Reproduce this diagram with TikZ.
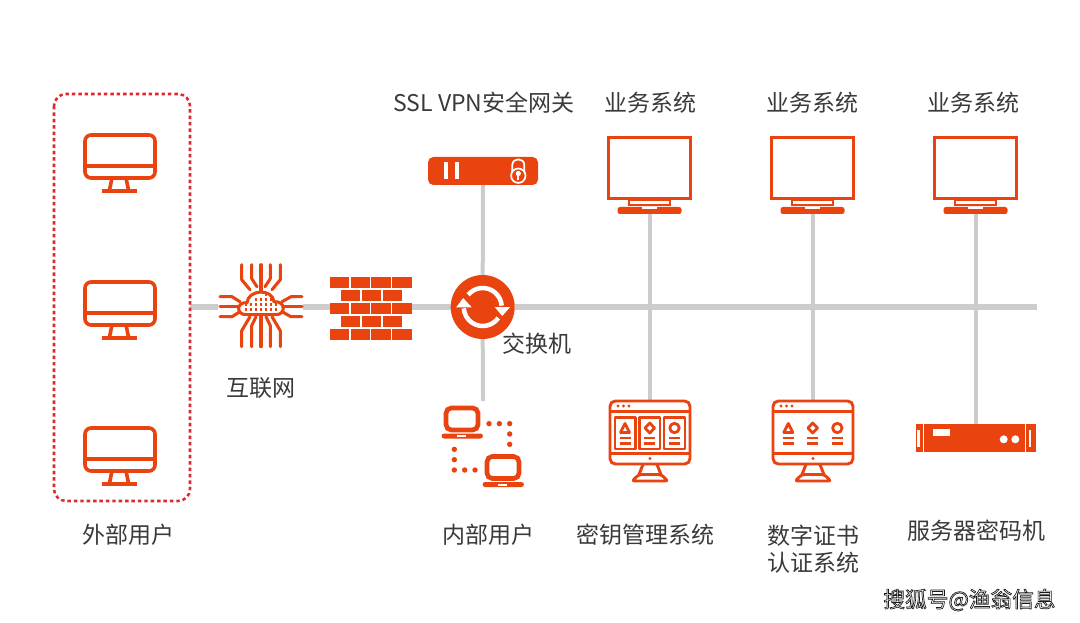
\documentclass[tikz,border=0pt]{standalone}
\usepackage{fontspec}
\setmainfont{Noto Sans CJK SC}
\definecolor{brand}{HTML}{E9430F}
\definecolor{dashred}{HTML}{E0282E}
\definecolor{bus}{HTML}{CCCCCC}
\definecolor{ink}{HTML}{3A3A3A}
\tikzset{
  bushor/.style={draw=bus,line width=5.2pt},
  busver/.style={draw=bus,line width=3pt},
  anchorbox/.style={inner sep=0pt,outer sep=0pt,minimum width=#1},
  lbl/.style={font=\fontsize{17.25}{20.25}\selectfont,text=ink,align=center,inner sep=0pt},
  ico/.style={draw=brand,line width=2.7pt,line join=round,line cap=round},
  icot/.style={draw=brand,line width=2.2pt,line join=round,line cap=round},
}
% user monitor: origin = centre of top edge
\newcommand{\usermon}[2]{\begin{scope}[shift={(#1,#2)}]
  \draw[ico,rounded corners=4.5pt] (-35,0) rectangle (35,43);
  \draw[ico,line cap=butt] (-35,31) -- (35,31);
  \draw[ico,line cap=butt] (-8,43) -- (-10.5,55) (6,43) -- (8.5,55);
  \draw[ico,line cap=butt] (-18,56) -- (17,56);
\end{scope}}
% business system screen: origin = centre of top edge
\newcommand{\bizscreen}[2]{\begin{scope}[shift={(#1,#2)}]
  \draw[ico,line join=miter] (-41,1.5) rectangle (41,62.5);
  \draw[draw=brand,line width=1.8pt] (-20.5,63.5) rectangle (20.5,69);
  \fill[brand,rounded corners=1.8pt] (-32,71) rectangle (32,78);
  \fill[white] (-8,71) rectangle (7,73);
\end{scope}}
% laptop: origin = top-left of screen
\newcommand{\laptop}[2]{\begin{scope}[shift={(#1,#2)}]
  \draw[draw=brand,line width=3.5pt,rounded corners=4pt] (2,2) rectangle (34,24);
  \fill[brand,rounded corners=2pt] (-2.5,27.5) rectangle (39,32.5);
  \fill[white] (13,29) rectangle (22,31);
\end{scope}}
% app monitor: origin = centre of top edge
\newcommand{\appmon}[2]{\begin{scope}[shift={(#1,#2)}]
  \draw[icot,rounded corners=4pt] (-40,1) rectangle (40,64);
  \draw[icot,line cap=butt] (-40,11.5) -- (40,11.5);
  \draw[icot,line cap=butt] (-40,53.5) -- (40,53.5);
  \foreach \dx in {-32,-26.5,-21}{\fill[brand] (\dx,6) circle (1.6);}
  \fill[brand] (0,58.5) circle (1.6);
  \draw[icot,line cap=butt] (-7,64.5) -- (-11,74.5) (7,64.5) -- (11,74.5);
  \draw[icot,rounded corners=2pt] (-11,74.5) -- (11,74.5) -- (18,81) -- (-18,81) -- cycle;
\end{scope}}
\newcommand{\symlines}{\draw[draw=brand,line width=1.8pt] (-5.5,10.5) -- (5.5,10.5) (-5.5,16) -- (5.5,16);}
\newcommand{\symtri}[2]{\begin{scope}[shift={(#1,#2)}]
  \draw[icot,line width=2.1pt] (0,-4) -- (4.5,5) -- (-4.5,5) -- cycle;
  \symlines
\end{scope}}
\newcommand{\symdia}[2]{\begin{scope}[shift={(#1,#2)}]
  \draw[icot,line width=2.1pt] (0,-4.5) -- (4.8,0.5) -- (0,5.5) -- (-4.8,0.5) -- cycle;
  \symlines
\end{scope}}
\newcommand{\symcir}[2]{\begin{scope}[shift={(#1,#2)}]
  \draw[icot,line width=2.1pt] (0,0.5) circle (4.7);
  \symlines
\end{scope}}
\begin{document}
\begin{tikzpicture}[x=0.75pt,y=-0.75pt]
\fill[white] (0,0) rectangle (1080,623);
\useasboundingbox (0,0) rectangle (1080,623);

% anchor nodes that carry the icons
\node[anchorbox=102pt,minimum height=305.25pt] (ext) at (122,297.5) {};
\node[anchorbox=63.75pt,minimum height=61.5pt] (net) at (260.5,306) {};
\node[anchorbox=61.5pt,minimum height=47.25pt] (fw) at (371,308.5) {};
\node[circle,anchorbox=48pt] (sw) at (482.7,307) {};
\node[anchorbox=82.5pt,minimum height=21pt] (gw) at (483,171) {};
\node[anchorbox=62pt,minimum height=58.5pt] (s1) at (650,175) {};
\node[anchorbox=62pt,minimum height=58.5pt] (s2) at (813,175) {};
\node[anchorbox=62pt,minimum height=58.5pt] (s3) at (976,175) {};
\node[anchorbox=62pt,minimum height=61.5pt] (km) at (650,441.5) {};
\node[anchorbox=62pt,minimum height=61.5pt] (ca) at (813,441.5) {};
\node[anchorbox=89.5pt,minimum height=21pt] (srv) at (976,438.3) {};
\node[anchorbox=62pt,minimum height=65pt] (lan) at (483,444.3) {};
\coordinate (busend) at (1037,307);

% connectors
\draw[bushor] (ext.east |- sw.center) -- (net.west |- sw.center);
\draw[bushor] (net.east |- sw.center) -- (fw.west |- sw.center);
\draw[bushor] (fw.east |- sw.center) -- (sw.west);
\draw[bushor] (sw.east) -- (busend);
\draw[busver] (gw.south) -- (sw.north);
\draw[busver] (sw.south) -- (lan.north);
\draw[busver] (s1.south) -- (km.north);
\draw[busver] (s2.south) -- (ca.north);
\draw[busver] (s3.south) -- (srv.north);

% external users
\draw[dashred,line width=1.9pt,dash pattern=on 2.6pt off 2.2pt,rounded corners=9pt] (ext.north west) rectangle (ext.south east);
\usermon{120}{135}
\usermon{120}{282}
\usermon{120}{428}

% cloud chip
\begin{scope}[shift={(261,306.7)}]
  \begin{scope}[draw=brand,line width=2.3pt,line join=round,line cap=round]
  \draw (-19.3,-42) -- (-19.3,-27) -- (-11,-17);
  \draw (-9.3,-42) -- (-9.3,-28) -- (-4,-20);
  \draw (0,-42) -- (0,-14);
  \draw (9.3,-42) -- (9.3,-28) -- (4,-20);
  \draw (19.3,-42) -- (19.3,-27) -- (11,-17);
  \draw (-19.3,40) -- (-19.3,24) -- (-11,10);
  \draw (-9.3,40) -- (-9.3,19) -- (-5,10);
  \draw (0,40) -- (0,9);
  \draw (9.3,40) -- (9.3,19) -- (5,10);
  \draw (19.3,40) -- (19.3,24) -- (11,10);
  \draw (-41,-10) -- (-29,-10) -- (-21,-5);
  \draw (-41,0) -- (-22,0);
  \draw (-41,10) -- (-29,10) -- (-21,5);
  \draw (41,-10) -- (30,-10) -- (21,-5);
  \draw (41,0) -- (22,0);
  \draw (41,10) -- (30,10) -- (21,5);
  \draw[fill=white] (-15,8) .. controls (-25,8) and (-25,-5) .. (-14,-4) .. controls (-13,-17) and (11,-19) .. (13,-5) .. controls (25,-6) and (25,8) .. (15,8) -- cycle;
  \end{scope}
  \foreach \dx in {-15,-10,-5,0,5,10,15}{
    \fill[brand] (\dx-1.4,1.1) rectangle (\dx+1.4,3.8);
    \fill[brand] (\dx-1.4,-3.8) rectangle (\dx+1.4,-1.1);}
  \foreach \dx in {-5,0,5,10}{\fill[brand] (\dx-1.4,-8.6) rectangle (\dx+1.4,-5.9);}
  \foreach \dx in {5}{\fill[brand] (\dx-1.4,-13.4) rectangle (\dx+1.4,-10.7);}
\end{scope}

% firewall
\foreach \xa/\xb in {330/349.3,350.5/370,371/390.7,392/412}{
  \fill[brand] (\xa,277) rectangle (\xb,288.5);
  \fill[brand] (\xa,303) rectangle (\xb,314);
  \fill[brand] (\xa,329) rectangle (\xb,340);}
\foreach \xa/\xb in {341/360.3,361.7/381.3,382.7/402}{
  \fill[brand] (\xa,290) rectangle (\xb,301);
  \fill[brand] (\xa,316) rectangle (\xb,327);}

% switch
\fill[brand] (sw.center) circle (32);
\begin{scope}[shift={(482.7,307)}]
  \draw[white,line width=3.4pt] (-140:19) arc (-140:-4:19);
  \draw[white,line width=3.4pt] (35:19) arc (35:176:19);
  \fill[white] (12,0) -- (27.5,0) -- (19.5,9) -- cycle;
  \fill[white] (-26.5,0.3) -- (-11,0.3) -- (-19.5,-9) -- cycle;
\end{scope}

% gateway
\fill[brand,rounded corners=4pt] (gw.north west) rectangle (gw.south east);
\fill[white] (443.5,162) rectangle (447.5,179);
\fill[white] (454.5,162) rectangle (459,179);
\draw[white,line width=1.3pt] (512.3,172) -- (512.3,165) .. controls (512.3,157.5) and (524.3,157.5) .. (524.3,165) -- (524.3,172);
\draw[white,line width=1.3pt,fill=brand] (518.3,175.7) circle (7.2);
\fill[white] (518.3,173.5) circle (2.6);
\fill[white] (517.2,174) rectangle (519.4,180);

% business screens
\bizscreen{649.5}{136}
\bizscreen{812.5}{136}
\bizscreen{975.5}{136}

% internal users
\laptop{444}{406}
\laptop{485}{454.5}
\foreach \px/\py in {177/86,208/86,239/86,239/117,239/148,73/163,73/194,73/225,104/225,135/225}{
  \fill[brand] (430+\px/3,395+\py/3) circle (2.7);}

% key management
\appmon{650}{400}
\foreach \cx in {625,649.8,674.5}{\draw[icot,line width=1.8pt] (\cx-10.3,417.5) rectangle (\cx+10.3,449);}
\symtri{625}{427.5}
\symdia{649.8}{427.5}
\symcir{674.5}{427.5}

% certificate authority
\appmon{813}{400}
\symtri{788.3}{427.5}
\symdia{812.7}{427.5}
\symcir{837.3}{427.5}

% server
\fill[brand] (srv.north west) rectangle (srv.south east);
\draw[white,line width=0.5pt] (923.5,424.3) -- (923.5,452.3) (1025.5,424.3) -- (1025.5,452.3);
\fill[white] (917,430) rectangle (919.5,447);
\fill[white] (1029,430) rectangle (1031,447);
\fill[white] (932.5,429.3) rectangle (949.5,436);
\fill[white] (1003.7,439.3) circle (4);
\fill[white] (1015.3,439.3) circle (4);

% labels
\node[lbl] (lgw) at (484,103) {SSL VPN安全网关};
\node[lbl] (ls1) at (650,103) {业务系统};
\node[lbl] (ls2) at (812,103) {业务系统};
\node[lbl] (ls3) at (973,103) {业务系统};
\node[lbl] (lnet) at (261,388) {互联网};
\node[lbl] (lsw) at (537,344) {交换机};
\node[lbl] (lext) at (128,535) {外部用户};
\node[lbl] (llan) at (488,535) {内部用户};
\node[lbl] (lkm) at (645,535) {密钥管理系统};
\node[lbl] (lca) at (813,549) {数字证书\\认证系统};
\node[lbl] (lsrv) at (976,531) {服务器密码机};
\node[lbl,font=\fontsize{16.25}{18}\selectfont,text=black] (wm) at (969.5,600) {\special{pdf:code 2 Tr 0.5 w 0.1 0.1 0.1 RG 1 1 1 rg}搜狐号@渔翁信息\special{pdf:code 0 Tr}};
\end{tikzpicture}
\end{document}
